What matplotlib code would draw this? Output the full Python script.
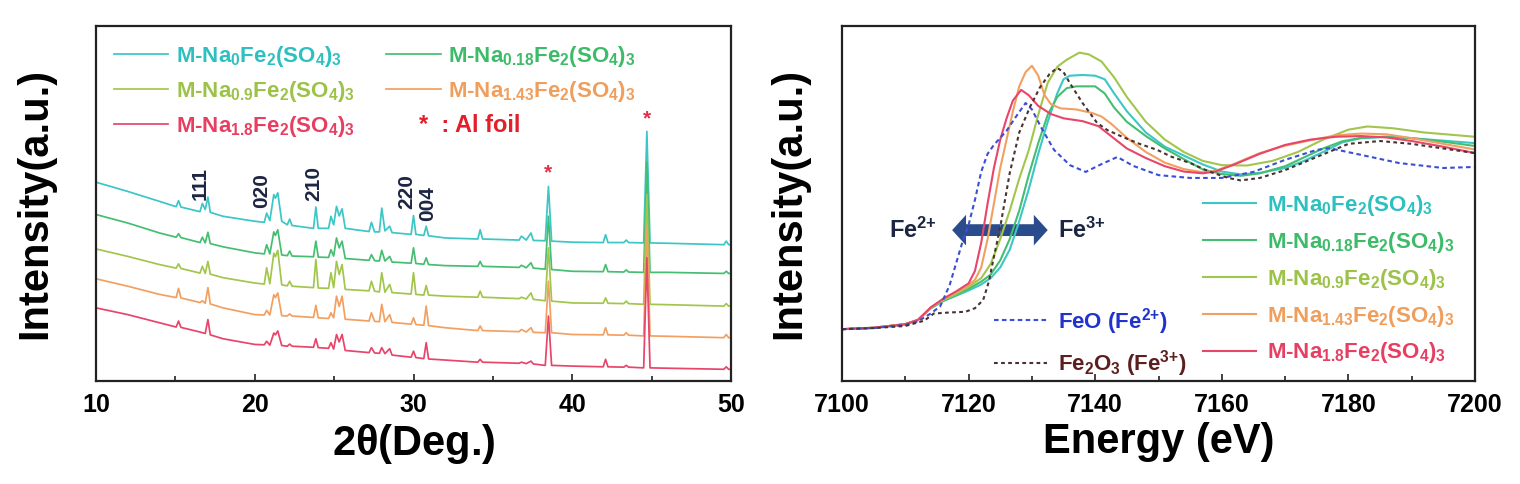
"""
XRD patterns (left) and Fe K-edge XANES (right) for M-NaxFe2(SO4)3 samples.
"""

import matplotlib
matplotlib.use("Agg")
import matplotlib.pyplot as plt
from matplotlib.patches import FancyArrowPatch, ArrowStyle
from matplotlib.ticker import MultipleLocator

plt.rcParams["font.family"] = ["Liberation Sans", "DejaVu Sans"]
plt.rcParams["font.weight"] = "bold"
plt.rcParams["axes.labelweight"] = "bold"
plt.rcParams["mathtext.default"] = "regular"

# ---------------------------------------------------------------- labels
LABELS = [
    r"M-Na$_0$Fe$_2$(SO$_4$)$_3$",
    r"M-Na$_{0.18}$Fe$_2$(SO$_4$)$_3$",
    r"M-Na$_{0.9}$Fe$_2$(SO$_4$)$_3$",
    r"M-Na$_{1.43}$Fe$_2$(SO$_4$)$_3$",
    r"M-Na$_{1.8}$Fe$_2$(SO$_4$)$_3$",
]
LINE_COLORS = ["#3cc6c6", "#45be72", "#a2c64c", "#f2a062", "#e8456a"]
TEXT_COLORS = ["#2ec0c0", "#3dbb68", "#9cc248", "#f09e5c", "#e63f62"]

# ---------------------------------------------------------------- XRD (offset stack, a.u.)
TWO_THETA = [10, 12, 14, 15.05, 15.2, 15.35, 16.55, 16.7, 16.88, 17.05, 17.2, 18,
             20, 20.6, 20.75, 20.95, 21.2, 21.3, 21.45, 21.7, 22.05, 22.2, 22.35,
             23.7, 23.85, 24.0, 24.65, 24.8, 24.97, 25.15, 25.32, 25.5, 25.7,
             27.2, 27.35, 27.55, 27.85, 28.0, 28.2, 28.5, 28.65, 29.85, 30.0,
             30.15, 30.65, 30.8, 30.95, 32, 34.05, 34.2, 34.35, 36.65, 36.8,
             37.1, 37.4, 37.55, 38.3, 38.5, 38.7, 40, 41.95, 42.1, 42.25, 43.25,
             43.4, 43.55, 44.5, 44.7, 44.9, 46, 49.55, 49.7, 49.85, 50]

XRD_NA0 = [56.0, 53.4, 50.6, 49.1, 50.8, 49.0, 47.7, 50.0, 48.3, 51.8, 47.5, 46.4,
           45.0, 44.7, 47.3, 45.2, 52.5, 51.5, 53.0, 45.0, 44.0, 45.6, 43.8,
           43.0, 49.0, 43.0, 43.0, 46.4, 44.0, 49.2, 46.5, 48.5, 43.0,
           42.1, 44.7, 42.0, 42.0, 48.7, 42.3, 43.6, 41.8, 41.3, 46.6,
           41.3, 41.0, 43.6, 40.9, 40.3, 40.0, 42.6, 40.0, 39.7, 40.8,
           39.7, 41.7, 39.6, 39.5, 54.8, 39.4, 39.1, 39.0, 41.2, 39.0, 39.0,
           39.7, 39.0, 38.9, 70.3, 38.9, 38.8, 38.4, 39.4, 38.4, 38.4]
XRD_NA018 = [46.9, 44.5, 41.7, 40.5, 41.5, 40.4, 39.0, 40.5, 38.9, 41.9, 38.7, 37.8,
             36.1, 35.8, 38.4, 35.8, 42.0, 41.0, 42.6, 35.5, 35.3, 36.6, 35.2,
             35.0, 39.4, 34.9, 34.8, 37.0, 35.2, 40.3, 37.5, 39.4, 34.5,
             34.0, 35.6, 33.9, 33.8, 36.8, 33.8, 35.1, 33.5, 33.2, 37.5,
             33.1, 32.9, 34.7, 32.8, 32.5, 32.3, 33.7, 32.3, 32.0, 32.6,
             31.9, 33.3, 31.8, 31.5, 46.4, 31.4, 30.9, 30.8, 32.8, 30.8, 30.7,
             31.3, 30.7, 30.6, 61.6, 30.6, 30.6, 30.3, 30.9, 30.3, 30.3]
XRD_NA09 = [37.2, 35.1, 32.8, 31.8, 33.0, 31.7, 30.4, 32.3, 30.3, 33.7, 30.1, 29.1,
            27.6, 27.3, 31.9, 27.4, 36.0, 35.0, 36.8, 27.1, 26.8, 28.1, 26.7,
            26.3, 34.2, 26.2, 26.1, 30.5, 26.3, 33.7, 30.0, 32.8, 25.8,
            25.4, 28.1, 25.3, 25.1, 30.5, 25.0, 27.2, 24.9, 24.5, 30.5,
            24.4, 24.2, 26.9, 24.2, 23.9, 23.6, 25.3, 23.6, 23.2, 23.6,
            23.1, 24.8, 23.0, 22.6, 37.5, 22.5, 22.0, 21.9, 23.4, 21.9, 21.8,
            22.5, 21.8, 21.6, 52.5, 21.6, 21.5, 21.1, 21.8, 21.1, 21.1]
XRD_NA143 = [28.8, 26.7, 24.4, 23.5, 26.1, 23.4, 22.1, 22.6, 21.9, 26.3, 21.7, 20.6,
             18.7, 18.6, 19.9, 18.6, 24.3, 23.5, 24.8, 18.4, 18.3, 18.9, 18.3,
             17.9, 21.3, 17.8, 17.6, 19.2, 17.8, 23.9, 21.0, 23.9, 17.4,
             16.9, 19.2, 16.8, 16.7, 21.6, 16.7, 18.7, 16.5, 16.0, 17.8,
             15.9, 15.7, 21.1, 15.6, 15.0, 14.2, 15.5, 14.2, 13.9, 14.5,
             13.8, 15.0, 13.7, 13.6, 28.1, 13.6, 13.1, 13.0, 15.0, 13.0, 12.9,
             13.6, 12.9, 12.7, 43.6, 12.7, 12.6, 12.2, 13.1, 12.2, 12.2]
XRD_NA18 = [20.6, 18.7, 16.4, 15.2, 16.9, 15.1, 13.8, 13.6, 13.4, 17.3, 13.0, 11.9,
            10.3, 10.2, 11.2, 10.1, 13.5, 13.0, 14.1, 10.0, 9.8, 10.4, 9.8,
            9.5, 11.9, 9.4, 9.2, 10.8, 9.0, 13.1, 11.0, 13.1, 8.6,
            8.0, 9.4, 7.9, 7.8, 9.4, 7.7, 9.1, 7.3, 6.7, 8.4,
            6.6, 6.3, 10.8, 6.2, 5.9, 5.3, 6.1, 5.3, 5.0, 5.3,
            4.9, 5.6, 4.8, 4.4, 18.3, 4.4, 4.2, 4.0, 6.1, 4.0, 3.9,
            4.4, 3.9, 3.7, 34.7, 3.7, 3.6, 3.3, 4.0, 3.3, 3.3]
XRD_SERIES = [XRD_NA0, XRD_NA018, XRD_NA09, XRD_NA143, XRD_NA18]

HKL_LABELS = ["111", "020", "210", "220", "004"]
HKL_POS = [16.55, 20.45, 23.7, 29.6, 30.9]
HKL_Y = [51.0, 48.7, 50.7, 48.5, 45.1]
AL_POS = [38.47, 44.7]
AL_Y = [58.6, 73.8]

# ---------------------------------------------------------------- XANES (normalised a.u.)
E_NA0 = [7100, 7105, 7110, 7112, 7114, 7116, 7118, 7120, 7122, 7123.5, 7125, 7126.5,
         7128, 7129.5, 7131, 7132.5, 7134, 7135, 7136, 7138, 7140, 7141.5, 7143,
         7145, 7148, 7151, 7154, 7157, 7160, 7163, 7166, 7170, 7173, 7176, 7179,
         7182, 7186, 7190, 7195, 7200]
MU_NA0 = [0.146, 0.150, 0.160, 0.172, 0.205, 0.225, 0.240, 0.255, 0.272, 0.29, 0.32,
          0.37, 0.45, 0.54, 0.64, 0.73, 0.81, 0.85, 0.86, 0.862, 0.86, 0.85, 0.81,
          0.76, 0.70, 0.66, 0.635, 0.61, 0.59, 0.582, 0.586, 0.60, 0.62, 0.645,
          0.672, 0.684, 0.688, 0.684, 0.677, 0.670]
E_NA018 = [7100, 7105, 7110, 7112, 7114, 7116, 7118, 7120, 7122, 7123.5, 7125, 7126.5,
           7128, 7129.5, 7131, 7132.5, 7134, 7135.5, 7137, 7140, 7141.5, 7143, 7145,
           7148, 7151, 7154, 7157, 7160, 7163, 7166, 7170, 7173, 7176, 7179, 7182,
           7186, 7190, 7195, 7200]
MU_NA018 = [0.146, 0.150, 0.160, 0.172, 0.205, 0.226, 0.242, 0.26, 0.28, 0.30, 0.34,
            0.40, 0.48, 0.58, 0.67, 0.75, 0.80, 0.825, 0.83, 0.83, 0.81, 0.77,
            0.73, 0.69, 0.655, 0.625, 0.596, 0.583, 0.578, 0.585, 0.605, 0.63,
            0.655, 0.675, 0.685, 0.688, 0.684, 0.674, 0.662]
E_NA09 = [7100, 7105, 7110, 7112, 7114, 7116, 7118, 7120, 7122, 7123.5, 7125, 7126.5,
          7128, 7129.5, 7131, 7132.5, 7134, 7135.5, 7137.5, 7139, 7141, 7143, 7145,
          7148, 7151, 7154, 7157, 7160, 7164, 7168, 7172, 7176, 7180, 7183, 7187,
          7192, 7196, 7200]
MU_NA09 = [0.146, 0.150, 0.160, 0.172, 0.206, 0.228, 0.245, 0.265, 0.29, 0.33, 0.40,
           0.48, 0.57, 0.65, 0.75, 0.84, 0.885, 0.905, 0.925, 0.92, 0.90, 0.855,
           0.80, 0.73, 0.68, 0.645, 0.62, 0.608, 0.607, 0.62, 0.645, 0.68, 0.708,
           0.717, 0.712, 0.70, 0.694, 0.688]
E_NA143 = [7100, 7105, 7110, 7112, 7114, 7116, 7118, 7120, 7121, 7122, 7123, 7124,
           7125, 7126, 7127, 7128, 7129, 7130, 7131, 7132, 7133, 7134.5, 7137,
           7139.5, 7141, 7142.5, 7145, 7148, 7151, 7154, 7157, 7159, 7162, 7166,
           7170, 7174, 7178, 7182, 7186, 7190, 7195, 7200]
MU_NA143 = [0.146, 0.150, 0.160, 0.172, 0.207, 0.230, 0.250, 0.27, 0.285, 0.32, 0.40,
            0.50, 0.60, 0.68, 0.76, 0.83, 0.87, 0.888, 0.86, 0.805, 0.78, 0.768,
            0.765, 0.755, 0.745, 0.725, 0.685, 0.645, 0.615, 0.597, 0.588, 0.592,
            0.612, 0.642, 0.663, 0.678, 0.692, 0.697, 0.695, 0.684, 0.668, 0.652]
E_NA18 = [7100, 7105, 7110, 7112, 7114, 7116, 7118, 7120, 7121, 7122, 7123, 7124,
          7125, 7126, 7127, 7128.3, 7129.5, 7131, 7133, 7135, 7138, 7140.5, 7142.5,
          7145, 7148, 7151, 7154, 7157, 7159, 7162, 7166, 7170, 7174, 7178, 7182,
          7186, 7190, 7195, 7200]
MU_NA18 = [0.146, 0.150, 0.160, 0.172, 0.207, 0.232, 0.252, 0.275, 0.31, 0.39, 0.50,
           0.60, 0.68, 0.74, 0.79, 0.82, 0.805, 0.775, 0.752, 0.74, 0.732, 0.718,
           0.69, 0.655, 0.628, 0.605, 0.59, 0.585, 0.59, 0.61, 0.64, 0.665, 0.68,
           0.688, 0.69, 0.686, 0.676, 0.66, 0.642]
XAS_E = [E_NA0, E_NA018, E_NA09, E_NA143, E_NA18]
XAS_MU = [MU_NA0, MU_NA018, MU_NA09, MU_NA143, MU_NA18]

E_FEO = [7100, 7105, 7110, 7112, 7114, 7115.5, 7117, 7118, 7119, 7120, 7121, 7122,
         7123, 7124, 7126, 7127.5, 7129, 7130, 7131.5, 7133.5, 7136, 7138.5, 7141,
         7143.5, 7146, 7150, 7155, 7160, 7165, 7170, 7175, 7177, 7182, 7188, 7195,
         7200]
MU_FEO = [0.146, 0.149, 0.158, 0.168, 0.19, 0.21, 0.27, 0.33, 0.39, 0.44, 0.51, 0.59,
          0.64, 0.665, 0.705, 0.745, 0.783, 0.765, 0.713, 0.651, 0.608, 0.589,
          0.611, 0.631, 0.606, 0.58, 0.572, 0.572, 0.589, 0.623, 0.651, 0.656,
          0.637, 0.614, 0.60, 0.603]
E_FE2O3 = [7100, 7105, 7110, 7113, 7114.5, 7117, 7119.5, 7121, 7122.3, 7123.2, 7124,
           7125, 7126.5, 7128, 7129.7, 7131.3, 7132.8, 7134, 7135, 7136, 7138,
           7140.3, 7141.9, 7144.4, 7147, 7149.8, 7152, 7155, 7158, 7161, 7163,
           7166, 7170, 7175, 7180, 7185, 7190, 7195, 7200]
MU_FE2O3 = [0.146, 0.149, 0.155, 0.17, 0.19, 0.193, 0.195, 0.205, 0.228, 0.28, 0.35,
            0.434, 0.586, 0.70, 0.772, 0.828, 0.865, 0.882, 0.87, 0.839, 0.783,
            0.727, 0.707, 0.687, 0.668, 0.651, 0.632, 0.614, 0.59, 0.572, 0.565,
            0.572, 0.594, 0.631, 0.668, 0.676, 0.668, 0.655, 0.642]

REF_LABELS = [r"FeO (Fe$^{2{+}}$)", r"Fe$_2$O$_3$ (Fe$^{3{+}}$)"]
REF_COLORS = ["#3a4fd6", "#4a3232"]
REF_TEXT_COLORS = ["#2233cc", "#5c1f1f"]

SPINE = "#222222"
NAVY = "#1c2542"


def style_axes(ax, major, minor):
    for s in ax.spines.values():
        s.set_linewidth(1.6)
        s.set_color(SPINE)
    ax.set_yticks([])
    ax.xaxis.set_major_locator(MultipleLocator(major))
    ax.xaxis.set_minor_locator(MultipleLocator(minor))
    ax.tick_params(axis="x", which="both", direction="in", top=False,
                   labelsize=18, pad=9, width=1.2, color=SPINE)
    ax.tick_params(axis="x", which="major", length=5)
    ax.tick_params(axis="x", which="minor", length=3.5)


fig = plt.figure(figsize=(15.2, 4.84), dpi=100)
ax1 = fig.add_axes([96 / 1520, 103 / 484, 635 / 1520, 355 / 484])
ax2 = fig.add_axes([842 / 1520, 103 / 484, 633 / 1520, 355 / 484])

# ---------------------------------------------------------------- left: XRD
handles = []
for ys, c, lab in zip(XRD_SERIES, LINE_COLORS, LABELS):
    h, = ax1.plot(TWO_THETA, ys, color=c, lw=1.25, label=lab)
    handles.append(h)
ax1.set_xlim(10, 50)
ax1.set_ylim(0, 100)
style_axes(ax1, 10, 5)
ax1.set_xlabel(r"2$\theta$(Deg.)", fontsize=30, labelpad=3)
ax1.set_ylabel("Intensity(a.u.)", fontsize=30)
ax1.yaxis.set_label_coords(-0.064, 0.5)

for lab, x, y in zip(HKL_LABELS, HKL_POS, HKL_Y):
    ax1.text(x, y, lab, rotation=90, ha="center", va="bottom", fontsize=15,
             color=NAVY)
for x, y in zip(AL_POS, AL_Y):
    ax1.text(x, y, "*", ha="center", va="center", fontsize=15, color="#e0304a")

leg_kw = dict(loc="upper left", frameon=False, borderaxespad=0, borderpad=0,
              fontsize=16, handlelength=2.45, handletextpad=0.35,
              labelspacing=0.45)
col1 = [0, 2, 4]
col2 = [1, 3]
l1 = ax1.legend([handles[i] for i in col1], [LABELS[i] for i in col1],
                bbox_to_anchor=(0.028, 0.949), **leg_kw)
for t, i in zip(l1.get_texts(), col1):
    t.set_color(TEXT_COLORS[i])
ax1.add_artist(l1)
l2 = ax1.legend([handles[i] for i in col2], [LABELS[i] for i in col2],
                bbox_to_anchor=(0.457, 0.949), **leg_kw)
for t, i in zip(l2.get_texts(), col2):
    t.set_color(TEXT_COLORS[i])
ax1.text(0.508, 0.72, "*  : Al foil", transform=ax1.transAxes, fontsize=17,
         color="#e21f2a", ha="left", va="center")

# ---------------------------------------------------------------- right: XANES
xas_handles = []
for es, mus, c, lab in zip(XAS_E, XAS_MU, LINE_COLORS, LABELS):
    h, = ax2.plot(es, mus, color=c, lw=1.5, label=lab)
    xas_handles.append(h)
h_feo, = ax2.plot(E_FEO, MU_FEO, color=REF_COLORS[0], lw=1.5, ls=(0, (2.2, 1.6)))
h_fe2o3, = ax2.plot(E_FE2O3, MU_FE2O3, color=REF_COLORS[1], lw=1.5,
                    ls=(0, (1.8, 1.6)))
ax2.set_xlim(7100, 7200)
ax2.set_ylim(0, 1)
style_axes(ax2, 20, 10)
ax2.set_xlabel("Energy (eV)", fontsize=30, labelpad=3)
ax2.set_ylabel("Intensity(a.u.)", fontsize=30)
ax2.yaxis.set_label_coords(-0.052, 0.5)

r_kw = dict(leg_kw, handlelength=2.4, handletextpad=0.5, labelspacing=0.53)
l3 = ax2.legend(xas_handles, LABELS, bbox_to_anchor=(0.570, 0.529), **r_kw)
for t, c in zip(l3.get_texts(), TEXT_COLORS):
    t.set_color(c)
ax2.add_artist(l3)
l4 = ax2.legend([h_feo, h_fe2o3], REF_LABELS, bbox_to_anchor=(0.240, 0.212),
                **r_kw)
for t, c in zip(l4.get_texts(), REF_TEXT_COLORS):
    t.set_color(c)

# oxidation-state arrow
arrow_y = 0.425
arrow_mid = 7125
for end in (7117.4, 7132.5):
    ax2.add_patch(FancyArrowPatch(
        (arrow_mid, arrow_y), (end, arrow_y),
        arrowstyle=ArrowStyle.Simple(head_length=1.0, head_width=2.2,
                                     tail_width=0.85),
        mutation_scale=10, color="#2b4c8c", shrinkA=0, shrinkB=0, lw=0))
ax2.text(7115.0, arrow_y, r"Fe$^{2{+}}$", ha="right", va="center", fontsize=17,
         color=NAVY)
ax2.text(7134.1, arrow_y, r"Fe$^{3{+}}$", ha="left", va="center", fontsize=17,
         color=NAVY)

fig.savefig("out.png", dpi=100)
